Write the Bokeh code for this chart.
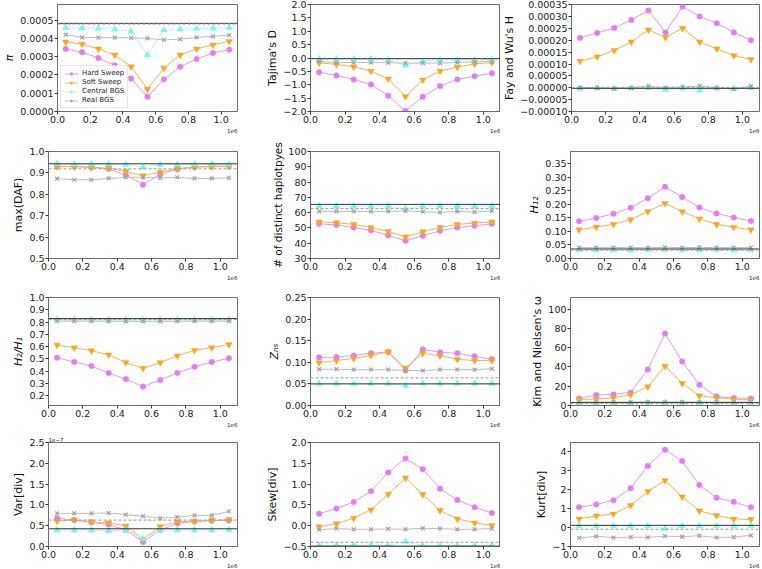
from bokeh.plotting import figure
from bokeh.models import Range1d, FixedTicker, CustomJSTickFormatter, Span, Title
from bokeh.layouts import column, row
from bokeh.embed import file_html
from bokeh.resources import INLINE

# ---------------- data ----------------
window_centers = [50000, 150000, 250000, 350000, 450000, 550000, 650000, 750000, 850000, 950000, 1050000]
x_ticks = [0, 200000, 400000, 600000, 800000, 1000000]
series_names = ["Hard Sweep", "Soft Sweep", "Central BGS", "Real BGS"]

pi_hard = [0.000342, 0.000324, 0.000293, 0.000253, 0.000180, 0.000080, 0.000176, 0.000245, 0.000287, 0.000320, 0.000338]
pi_soft = [0.000380, 0.000369, 0.000342, 0.000309, 0.000245, 0.000122, 0.000238, 0.000309, 0.000342, 0.000364, 0.000384]
pi_central = [0.000458, 0.000456, 0.000455, 0.000449, 0.000438, 0.000309, 0.000445, 0.000449, 0.000453, 0.000455, 0.000458]
pi_real = [0.000420, 0.000405, 0.000404, 0.000404, 0.000402, 0.000400, 0.000391, 0.000396, 0.000405, 0.000411, 0.000418]
pi_lines = [0.000482, 0.000478]
pi_ticks = [0.0, 0.0001, 0.0002, 0.0003, 0.0004, 0.0005]

taj_hard = [-0.53, -0.65, -0.80, -0.99, -1.41, -1.98, -1.45, -1.05, -0.80, -0.68, -0.57]
taj_soft = [-0.18, -0.24, -0.33, -0.49, -0.78, -1.44, -0.82, -0.49, -0.34, -0.22, -0.17]
taj_central = [-0.04, -0.04, -0.04, -0.04, -0.07, -0.28, -0.11, -0.07, -0.06, -0.07, -0.07]
taj_real = [-0.13, -0.17, -0.17, -0.17, -0.17, -0.19, -0.19, -0.19, -0.17, -0.14, -0.14]
taj_lines = [-0.02, -0.04]
taj_ticks = [-2.0, -1.5, -1.0, -0.5, 0.0, 0.5, 1.0, 1.5, 2.0]

fw_hard = [0.000211, 0.000232, 0.000253, 0.000287, 0.000327, 0.000234, 0.000344, 0.000301, 0.000273, 0.000234, 0.000201]
fw_soft = [0.000113, 0.000131, 0.000158, 0.000194, 0.000245, 0.000213, 0.000252, 0.000194, 0.000165, 0.000136, 0.000120]
fw_central = [-0.000003, -0.000002, -0.000003, -0.000002, -0.000001, -0.000008, -0.000002, -0.000010, -0.000002, -0.000004, -0.000001]
fw_real = [0.000001, 0.000001, -0.000003, 0.0, 0.000007, 0.000001, 0.000004, 0.000008, 0.0, -0.000006, 0.000007]
fw_lines = [-0.000002, 0.000002]
fw_ticks = [-0.0001, -0.00005, 0.0, 0.00005, 0.0001, 0.00015, 0.0002, 0.00025, 0.0003, 0.00035]

daf_hard = [0.932, 0.930, 0.927, 0.919, 0.890, 0.845, 0.893, 0.918, 0.927, 0.932, 0.932]
daf_soft = [0.929, 0.929, 0.925, 0.922, 0.907, 0.887, 0.904, 0.921, 0.927, 0.929, 0.930]
daf_central = [0.943, 0.941, 0.941, 0.941, 0.939, 0.927, 0.938, 0.939, 0.941, 0.941, 0.941]
daf_real = [0.873, 0.868, 0.868, 0.874, 0.879, 0.880, 0.876, 0.879, 0.874, 0.874, 0.877]
daf_lines = [0.9425, 0.919]
daf_ticks = [0.5, 0.6, 0.7, 0.8, 0.9, 1.0]

hap_hard = [52.7, 51.9, 50.3, 48.4, 45.1, 41.6, 44.9, 48.1, 50.3, 51.4, 52.7]
hap_soft = [54.0, 53.4, 52.3, 50.3, 47.7, 44.2, 47.5, 50.3, 52.3, 53.2, 54.0]
hap_central = [64.3, 64.3, 64.3, 64.2, 64.2, 62.6, 64.2, 64.3, 64.3, 64.3, 64.3]
hap_real = [60.8, 60.8, 60.8, 60.6, 60.8, 61.1, 60.6, 60.2, 60.8, 60.4, 61.1]
hap_lines = [65.4, 62.6]
hap_ticks = [30, 40, 50, 60, 70, 80, 90, 100]

h12_hard = [0.137, 0.149, 0.165, 0.187, 0.222, 0.264, 0.226, 0.188, 0.166, 0.151, 0.138]
h12_soft = [0.106, 0.116, 0.126, 0.143, 0.173, 0.203, 0.173, 0.146, 0.126, 0.115, 0.106]
h12_central = [0.032, 0.031, 0.032, 0.031, 0.032, 0.033, 0.032, 0.031, 0.032, 0.031, 0.032]
h12_real = [0.040, 0.040, 0.040, 0.040, 0.040, 0.041, 0.040, 0.041, 0.040, 0.040, 0.040]
h12_lines = [0.035, 0.031]
h12_ticks = [0.0, 0.05, 0.10, 0.15, 0.20, 0.25, 0.30, 0.35]

h2h1_hard = [0.509, 0.475, 0.441, 0.385, 0.335, 0.274, 0.327, 0.385, 0.435, 0.475, 0.504]
h2h1_soft = [0.612, 0.591, 0.567, 0.533, 0.470, 0.422, 0.470, 0.525, 0.570, 0.591, 0.617]
h2h1_central = [0.818, 0.818, 0.818, 0.817, 0.817, 0.815, 0.818, 0.818, 0.817, 0.818, 0.818]
h2h1_real = [0.807, 0.807, 0.807, 0.806, 0.806, 0.805, 0.806, 0.806, 0.807, 0.807, 0.807]
h2h1_lines = [0.828, 0.820]
h2h1_ticks = [0.2, 0.3, 0.4, 0.5, 0.6, 0.7, 0.8, 0.9, 1.0]

zns_hard = [0.111, 0.112, 0.116, 0.121, 0.124, 0.081, 0.130, 0.123, 0.121, 0.114, 0.107]
zns_soft = [0.099, 0.104, 0.109, 0.116, 0.124, 0.087, 0.121, 0.115, 0.107, 0.104, 0.104]
zns_central = [0.051, 0.051, 0.051, 0.051, 0.051, 0.046, 0.051, 0.051, 0.051, 0.051, 0.051]
zns_real = [0.084, 0.084, 0.083, 0.083, 0.083, 0.081, 0.081, 0.083, 0.083, 0.083, 0.085]
zns_lines = [0.050, 0.064]
zns_ticks = [0.0, 0.05, 0.10, 0.15, 0.20, 0.25]

kn_hard = [7.3, 10.8, 11.5, 13.6, 37.3, 74.6, 45.6, 21.6, 9.4, 7.7, 7.3]
kn_soft = [6.3, 6.6, 8.0, 11.1, 19.5, 40.8, 23.0, 10.1, 8.0, 6.6, 5.6]
kn_central = [2.8, 2.8, 2.8, 2.8, 2.8, 2.6, 2.8, 2.8, 2.8, 2.8, 2.8]
kn_real = [3.5, 3.5, 3.5, 3.5, 3.6, 3.5, 3.5, 3.6, 3.5, 3.5, 3.5]
kn_lines = [3.2, 2.2]
kn_ticks = [0, 20, 40, 60, 80, 100]

var_hard = [6.81e-8, 6.35e-8, 5.80e-8, 5.26e-8, 4.00e-8, 1.08e-8, 4.00e-8, 5.57e-8, 6.00e-8, 6.27e-8, 6.27e-8]
var_soft = [6.11e-8, 6.42e-8, 5.96e-8, 5.65e-8, 4.95e-8, 1.78e-8, 4.80e-8, 5.96e-8, 6.04e-8, 6.19e-8, 6.50e-8]
var_central = [3.95e-8, 3.95e-8, 3.95e-8, 3.80e-8, 3.90e-8, 1.90e-8, 3.90e-8, 3.95e-8, 3.95e-8, 3.95e-8, 4.00e-8]
var_real = [7.97e-8, 7.97e-8, 7.97e-8, 8.05e-8, 7.66e-8, 7.28e-8, 6.81e-8, 7.04e-8, 7.50e-8, 7.50e-8, 8.44e-8]
var_lines = [4.26e-8, 6.35e-8]
var_ticks = [0.0, 0.5e-7, 1.0e-7, 1.5e-7, 2.0e-7, 2.5e-7]

skew_hard = [0.289, 0.414, 0.570, 0.828, 1.281, 1.617, 1.359, 0.891, 0.617, 0.445, 0.305]
skew_soft = [-0.023, 0.047, 0.180, 0.383, 0.758, 1.148, 0.750, 0.367, 0.164, 0.070, 0.008]
skew_central = [-0.477, -0.477, -0.470, -0.470, -0.477, -0.383, -0.477, -0.477, -0.477, -0.477, -0.477]
skew_real = [-0.094, -0.070, -0.086, -0.086, -0.078, -0.086, -0.063, -0.070, -0.086, -0.086, -0.070]
skew_lines = [-0.49, -0.398]
skew_ticks = [-0.5, 0.0, 0.5, 1.0, 1.5, 2.0]

kurt_hard = [1.08, 1.22, 1.44, 2.08, 3.26, 4.12, 3.52, 2.25, 1.58, 1.36, 1.07]
kurt_soft = [0.46, 0.62, 0.72, 1.17, 1.92, 2.49, 1.63, 0.89, 0.64, 0.46, 0.43]
kurt_central = [0.086, 0.086, 0.086, 0.086, 0.086, -0.05, 0.086, 0.086, 0.086, 0.086, 0.086]
kurt_real = [-0.55, -0.46, -0.53, -0.50, -0.52, -0.45, -0.48, -0.43, -0.53, -0.50, -0.41]
kurt_lines = [0.12, -0.086]
kurt_ticks = [-1, 0, 1, 2, 3, 4]

# ---------------- style ----------------
COLORS = ["#dd80ee", "#f5a623", "#7ef2f2", "#a0a0a0"]
LINE_COLORS = ["#e39af0", "#f7b44a", "#b5f7f7", "#bdbdbd"]
MARKERS = ["circle", "inverted_triangle", "triangle", "x"]
SIZES = [5.5, 6.5, 6.5, 5.5]
FRAME = "#6e6e6e"
FONT = "DejaVu Sans"

COL_W = [254, 246, 262]
COL_L = [48, 56, 70]
COL_R = [17, 0, 3]
ROW_H = [140, 145, 143, 141]
ROW_T = [4, 11, 12, 14]
ROW_B = [29, 27, 23, 23]


def fmt(decimals, scale=1.0):
    return CustomJSTickFormatter(args=dict(d=decimals, s=scale), code="""
        const v = tick / s;
        let t = v.toFixed(d);
        if (Math.abs(v) < 1e-12) { t = (0).toFixed(d); }
        return t.replace('-', '\u2212');
    """)


def panel(r, c, ylim, yticks, decimals, ylabel, data, lines, italic=False, scale=1.0,
          legend=False, offset_text=None, label_size="11px"):
    p = figure(width=COL_W[c], height=ROW_H[r], output_backend="svg", toolbar_location=None,
               x_range=Range1d(0, 1.1e6), y_range=Range1d(ylim[0], ylim[1]),
               min_border_left=COL_L[c], min_border_right=COL_R[c],
               min_border_top=ROW_T[r], min_border_bottom=ROW_B[r])
    p.grid.visible = False
    p.outline_line_color = FRAME
    p.outline_line_width = 1
    p.background_fill_color = "white"
    p.border_fill_color = "white"
    for ax in (p.xaxis[0], p.yaxis[0]):
        ax.axis_line_color = FRAME
        ax.major_tick_line_color = "#333333"
        ax.minor_tick_line_color = None
        ax.major_tick_in = 0
        ax.major_tick_out = 3
        ax.major_label_text_font = FONT
        ax.major_label_text_font_size = "9.5px"
        ax.major_label_text_color = "#1a1a1a"
        ax.major_label_standoff = 1
    p.xaxis.ticker = FixedTicker(ticks=x_ticks)
    p.xaxis.formatter = fmt(1, 1e6)
    p.yaxis.ticker = FixedTicker(ticks=yticks)
    p.yaxis.formatter = fmt(decimals, scale)
    p.yaxis.axis_label = ylabel
    p.yaxis.axis_label_text_font = FONT
    p.yaxis.axis_label_text_font_size = label_size
    p.yaxis.axis_label_text_font_style = "italic" if italic else "normal"
    p.yaxis.axis_label_text_color = "#111111"
    p.yaxis.axis_label_standoff = 1

    for i, ys in enumerate(data):
        kw = dict(legend_label=series_names[i]) if legend else {}
        p.line(window_centers, ys, line_color=LINE_COLORS[i], line_width=1, **kw)
        p.scatter(window_centers, ys, marker=MARKERS[i], size=SIZES[i],
                  fill_color=COLORS[i], line_color=COLORS[i],
                  line_width=1.2 if MARKERS[i] == "x" else 0.5, **kw)

    p.add_layout(Span(location=lines[0], dimension="width", line_color="#333333", line_width=1))
    p.add_layout(Span(location=lines[1], dimension="width", line_color="#999999", line_width=1,
                      line_dash="3 2"))

    p.add_layout(Title(text="1e6", align="right", text_font=FONT, text_font_size="5.5px",
                       text_font_style="normal", text_color="#222222", standoff=0, offset=0), "below")
    if offset_text:
        p.add_layout(Title(text=offset_text, align="left", text_font=FONT, text_font_size="5.5px",
                           text_font_style="normal", text_color="#222222", standoff=1, offset=0), "above")
    if legend:
        lg = p.legend[0]
        lg.location = "bottom_left"
        lg.label_text_font = FONT
        lg.label_text_font_size = "7px"
        lg.label_text_color = "#222222"
        lg.glyph_width = 14
        lg.glyph_height = 7
        lg.label_height = 7
        lg.label_standoff = 4
        lg.spacing = 1
        lg.padding = 3
        lg.margin = 3
        lg.border_line_color = "#cccccc"
        lg.background_fill_alpha = 0.85
    return p


p1 = panel(0, 0, (0, 0.000585), pi_ticks, 4, "π", [pi_hard, pi_soft, pi_central, pi_real], pi_lines,
           italic=True, legend=True)
p2 = panel(0, 1, (-2.0, 2.0), taj_ticks, 1, "Tajima's D", [taj_hard, taj_soft, taj_central, taj_real], taj_lines)
p3 = panel(0, 2, (-0.0001, 0.000352), fw_ticks, 5, "Fay and Wu's H", [fw_hard, fw_soft, fw_central, fw_real], fw_lines)
p4 = panel(1, 0, (0.5, 1.0), daf_ticks, 1, "max(DAF)", [daf_hard, daf_soft, daf_central, daf_real], daf_lines)
p5 = panel(1, 1, (30, 100), hap_ticks, 0, "# of distinct haplotpyes", [hap_hard, hap_soft, hap_central, hap_real], hap_lines,
           label_size="10.5px")
p6 = panel(1, 2, (0, 0.394), h12_ticks, 2, "H₁₂", [h12_hard, h12_soft, h12_central, h12_real], h12_lines, italic=True)
p7 = panel(2, 0, (0.12, 1.0), h2h1_ticks, 1, "H₂/H₁", [h2h1_hard, h2h1_soft, h2h1_central, h2h1_real], h2h1_lines, italic=True)
p8 = panel(2, 1, (0, 0.25), zns_ticks, 2, "Zₙₛ", [zns_hard, zns_soft, zns_central, zns_real], zns_lines, italic=True)
p9 = panel(2, 2, (0, 112), kn_ticks, 0, "Kim and Nielsen's ω", [kn_hard, kn_soft, kn_central, kn_real], kn_lines)
p10 = panel(3, 0, (0, 2.5e-7), var_ticks, 1, "Var[div]", [var_hard, var_soft, var_central, var_real], var_lines,
            scale=1e-7, offset_text="1e−7")
p11 = panel(3, 1, (-0.5, 2.0), skew_ticks, 1, "Skew[div]", [skew_hard, skew_soft, skew_central, skew_real], skew_lines)
p12 = panel(3, 2, (-1, 4.5), kurt_ticks, 0, "Kurt[div]", [kurt_hard, kurt_soft, kurt_central, kurt_real], kurt_lines)

layout = column(row(p1, p2, p3), row(p4, p5, p6), row(p7, p8, p9), row(p10, p11, p12))

with open("out.html", "w") as f:
    f.write(file_html(layout, INLINE))
